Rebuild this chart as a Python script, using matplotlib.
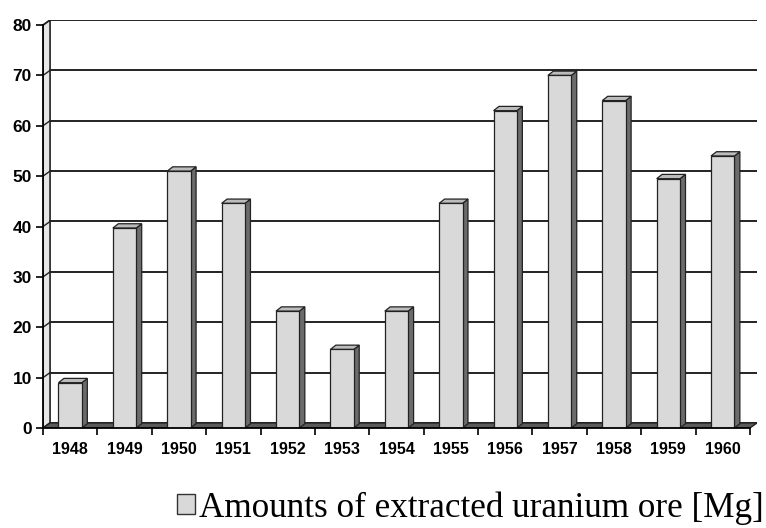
import numpy as np
import matplotlib
matplotlib.use("Agg")
import matplotlib.pyplot as plt
from matplotlib.patches import Polygon, Patch

years = ["1948", "1949", "1950", "1951", "1952", "1953", "1954",
         "1955", "1956", "1957", "1958", "1959", "1960"]
ore = [9, 39.7, 51, 44.6, 23.2, 15.6, 23.2, 44.6, 63, 70, 65, 49.5, 54]
yticks = [0, 10, 20, 30, 40, 50, 60, 70, 80]
legend_label = "Amounts of extracted uranium ore [Mg]"

W, H = 766, 528
fig = plt.figure(figsize=(W / 100, H / 100), dpi=100)

# axes spans front-left corner to back wall top/right (pixels)
x0, x1, ytop, ybot = 43, 757, 20, 428
ax = fig.add_axes([x0 / W, 1 - ybot / H, (x1 - x0) / W, (ybot - ytop) / H])

n = len(years)
dx, dy = 0.13, 1.0          # depth of floor / wall
bdx, bdy = 0.10, 0.85       # depth of the bars
bw = 0.43
ax.set_xlim(-dx, n)
ax.set_ylim(-dy, 80)

# back wall gridlines
for v in yticks:
    ax.plot([0, n], [v, v], color="#222222", lw=1.4, zorder=1)
    ax.plot([-dx, 0], [v - dy, v], color="#222222", lw=1.0, zorder=1)

# left wall
ax.add_patch(Polygon([(-dx, -dy), (0, 0), (0, 80), (-dx, 80 - dy)],
                     closed=True, facecolor="#e6e6e6", edgecolor="#222222",
                     lw=1.2, zorder=0.5))
# floor
ax.add_patch(Polygon([(-dx, -dy), (n - dx, -dy), (n, 0), (0, 0)],
                     closed=True, facecolor="#5a5a5a", edgecolor="#222222",
                     lw=1.0, zorder=1.5))

# bars
xc = np.arange(n) + 0.5 - dx
vals = np.array(ore) - dy
ax.bar(xc, np.array(ore), bottom=-dy, width=bw, color="#d9d9d9",
       edgecolor="#222222", lw=0.9, zorder=4)
for x, v in zip(xc, vals):
    r = x + bw / 2
    l = x - bw / 2
    ax.add_patch(Polygon([(r, -dy), (r + bdx, -dy + bdy), (r + bdx, v + bdy), (r, v)],
                         closed=True, facecolor="#6b6b6b", edgecolor="#222222",
                         lw=0.9, zorder=3))
    ax.add_patch(Polygon([(l, v), (r, v), (r + bdx, v + bdy), (l + bdx, v + bdy)],
                         closed=True, facecolor="#bcbcbc", edgecolor="#222222",
                         lw=0.9, zorder=3))

for s in ["top", "right"]:
    ax.spines[s].set_visible(False)
ax.spines["left"].set_bounds(-dy, 80 - dy)
ax.spines["bottom"].set_bounds(-dx, n - dx)
ax.spines["left"].set_linewidth(1.3)
ax.spines["bottom"].set_linewidth(1.3)
ax.spines["left"].set_zorder(5)
ax.spines["bottom"].set_zorder(5)

ax.set_yticks([v - dy for v in yticks], [str(v) for v in yticks])
ax.set_xticks(np.arange(n + 1) - dx, [""] * (n + 1))
ax.set_xticks(xc, years, minor=True)
ax.tick_params(axis="x", which="minor", length=0, pad=10)
ax.tick_params(axis="x", which="major", length=5, width=1.2, direction="out")
ax.tick_params(axis="y", length=5, width=1.2, pad=3)
for lab in ax.get_yticklabels():
    lab.set_fontfamily("Liberation Sans")
    lab.set_fontweight("bold")
    lab.set_fontsize(12.5)
for lab in ax.get_xticklabels(minor=True):
    lab.set_fontfamily("Liberation Sans")
    lab.set_fontweight("bold")
    lab.set_fontsize(11.5)

fig.legend(handles=[Patch(facecolor="#d9d9d9", edgecolor="#333333", lw=1.0)],
           labels=[legend_label], loc="lower right",
           bbox_to_anchor=(1.029, -0.04), frameon=False, borderpad=0.2,
           prop={"family": "Liberation Serif", "size": 25.3},
           handlelength=0.5, handleheight=0.5, handletextpad=0.12)

fig.savefig("out.png", dpi=100)
